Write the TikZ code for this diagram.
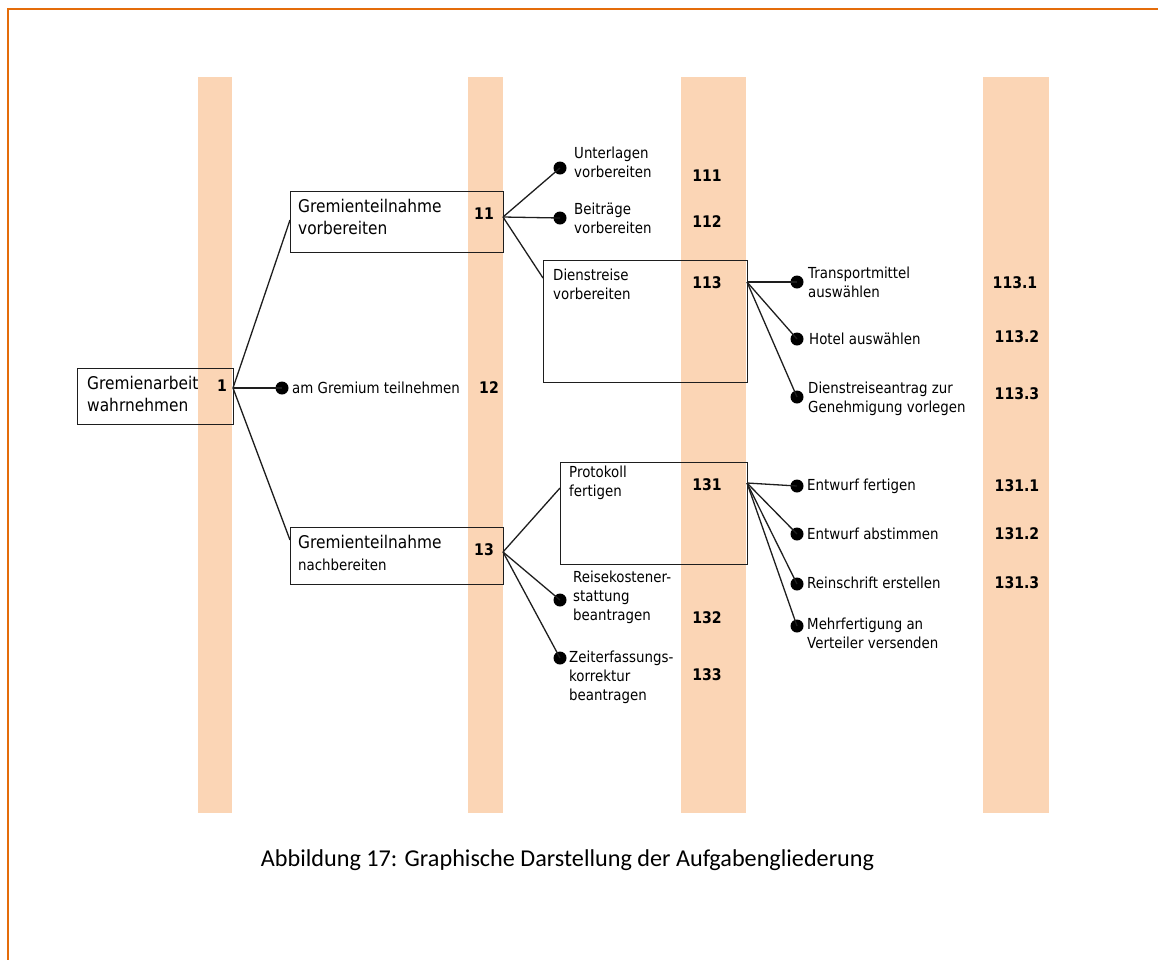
\documentclass[tikz,border=0pt]{standalone}
\usepackage{fontspec}
\setmainfont{DejaVu Sans}[FakeStretch=0.88]
\newfontfamily\capfont{Carlito}
\definecolor{bandc}{HTML}{FBD5B5}
\definecolor{framec}{HTML}{E46C0A}
\definecolor{linec}{HTML}{1E1E1E}
\tikzset{
  band/.style={fill=bandc, draw=none},
  box/.style={draw=linec, line width=1.4pt, inner sep=0, anchor=north west, rectangle},
  big/.style={font=\fontsize{17.5}{22}\selectfont, align=left, inner sep=0, anchor=west},
  small/.style={font=\fontsize{15.2}{19}\selectfont, align=left, inner sep=0, anchor=west},
  num/.style={font=\bfseries\fontsize{16}{19}\selectfont, inner sep=0},
  dot/.style={circle, fill=black, inner sep=0, minimum size=13pt},
  link/.style={draw=linec, line width=1.3pt},
}
\begin{document}
\begin{tikzpicture}[x=1pt,y=-1pt]
\useasboundingbox (0,0) rectangle (1158,959);
% frame
\draw[framec, line width=2.4pt] (8,965) -- (8,9) -- (1165,9);

% level columns
\fill[band] (198,77) rectangle (232,813);
\fill[band] (468,77) rectangle (503,813);
\fill[band] (681,77) rectangle (746,813);
\fill[band] (983,77) rectangle (1049,813);

% boxes
\node[box, minimum width=156pt, minimum height=56pt] (b1) at (77,368) {};
\node[box, minimum width=213pt, minimum height=61pt] (b11) at (290,191) {};
\node[box, minimum width=213pt, minimum height=57pt] (b13) at (290,527) {};
\node[box, minimum width=204pt, minimum height=122pt] (b113) at (543,260) {};
\node[box, minimum width=187pt, minimum height=102pt] (b131) at (560,462) {};

% connection points on the boxes
\coordinate (o1) at (233,388);
\coordinate (i11) at (290,220);
\coordinate (i13) at (290,540);
\coordinate (o11) at (503,217);
\coordinate (i113) at (543,278);
\coordinate (o113) at (747,282);
\coordinate (o13) at (503,552);
\coordinate (i131) at (560,488);
\coordinate (o131) at (747,483);

% dots
\node[dot] (d12) at (282,388) {};
\node[dot] (d111) at (560,168) {};
\node[dot] (d112) at (560,218) {};
\node[dot] (d1131) at (797,282) {};
\node[dot] (d1132) at (797,339) {};
\node[dot] (d1133) at (797,397) {};
\node[dot] (d132) at (560,600) {};
\node[dot] (d133) at (560,658) {};
\node[dot] (d1311) at (797,486) {};
\node[dot] (d1312) at (797,534) {};
\node[dot] (d1313) at (797,584) {};
\node[dot] (d1314) at (797,626) {};

% connectors
\draw[link] (o1) -- (i11);
\draw[link] (o1) -- (d12.center);
\draw[link] (o1) -- (i13);
\draw[link] (o11) -- (d111.center);
\draw[link] (o11) -- (d112.center);
\draw[link] (o11) -- (i113);
\draw[link] (o113) -- (d1131.center);
\draw[link] (o113) -- (d1132.center);
\draw[link] (o113) -- (d1133.center);
\draw[link] (o13) -- (i131);
\draw[link] (o13) -- (d132.center);
\draw[link] (o13) -- (d133.center);
\draw[link] (o131) -- (d1311.center);
\draw[link] (o131) -- (d1312.center);
\draw[link] (o131) -- (d1313.center);
\draw[link] (o131) -- (d1314.center);

% texts
\node[big] (t1) at (87,394) {Gremienarbeit\\wahrnehmen};
\node[big] (t11) at (298,217) {Gremienteilnahme\\vorbereiten};
\node[big] (t13) at (298,553) {Gremienteilnahme\\{\fontsize{15.2}{19}\selectfont nachbereiten}};
\node[small] (t12) at (292,388) {am Gremium teilnehmen};
\node[small] (t111) at (574,162.5) {Unterlagen\\vorbereiten};
\node[small] (t112) at (574,218) {Beiträge\\vorbereiten};
\node[small] (t113) at (553,284) {Dienstreise\\vorbereiten};
\node[small] (t1131) at (808,282.5) {Transportmittel\\auswählen};
\node[small] (t1132) at (809,339) {Hotel auswählen};
\node[small] (t1133) at (808,398.5) {Dienstreiseantrag zur\\Genehmigung vorlegen};
\node[small] (t131) at (569,483) {Protokoll\\fertigen};
\node[small] (t132) at (573,597.5) {Reisekostener-\\stattung\\beantragen};
\node[small] (t133) at (569,677) {Zeiterfassungs-\\korrektur\\beantragen};
\node[small] (t1311) at (807,486) {Entwurf fertigen};
\node[small] (t1312) at (807,534) {Entwurf abstimmen};
\node[small] (t1313) at (807,583) {Reinschrift erstellen};
\node[small] (t1314) at (807,633.5) {Mehrfertigung an\\Verteiler versenden};

% numbers
\node[num] (n1) at (222,386) {1};
\node[num] (n11) at (484,214) {11};
\node[num] (n12) at (489,388) {12};
\node[num] (n13) at (484,550) {13};
\node[num] (n111) at (707,176) {111};
\node[num] (n112) at (707,222) {112};
\node[num] (n113) at (707,283) {113};
\node[num] (n131) at (707,485) {131};
\node[num] (n132) at (707,618) {132};
\node[num] (n133) at (707,675) {133};
\node[num] (n1131) at (1015,283) {113.1};
\node[num] (n1132) at (1017,337) {113.2};
\node[num] (n1133) at (1017,394) {113.3};
\node[num] (n1311) at (1017,486) {131.1};
\node[num] (n1312) at (1017,534) {131.2};
\node[num] (n1313) at (1017,583) {131.3};

% caption
\node[font=\capfont\fontsize{24.2}{29}\selectfont, inner sep=0] (cap) at (567.5,860)
  {Abbildung 17: Graphische Darstellung der Aufgabengliederung};
\end{tikzpicture}
\end{document}
